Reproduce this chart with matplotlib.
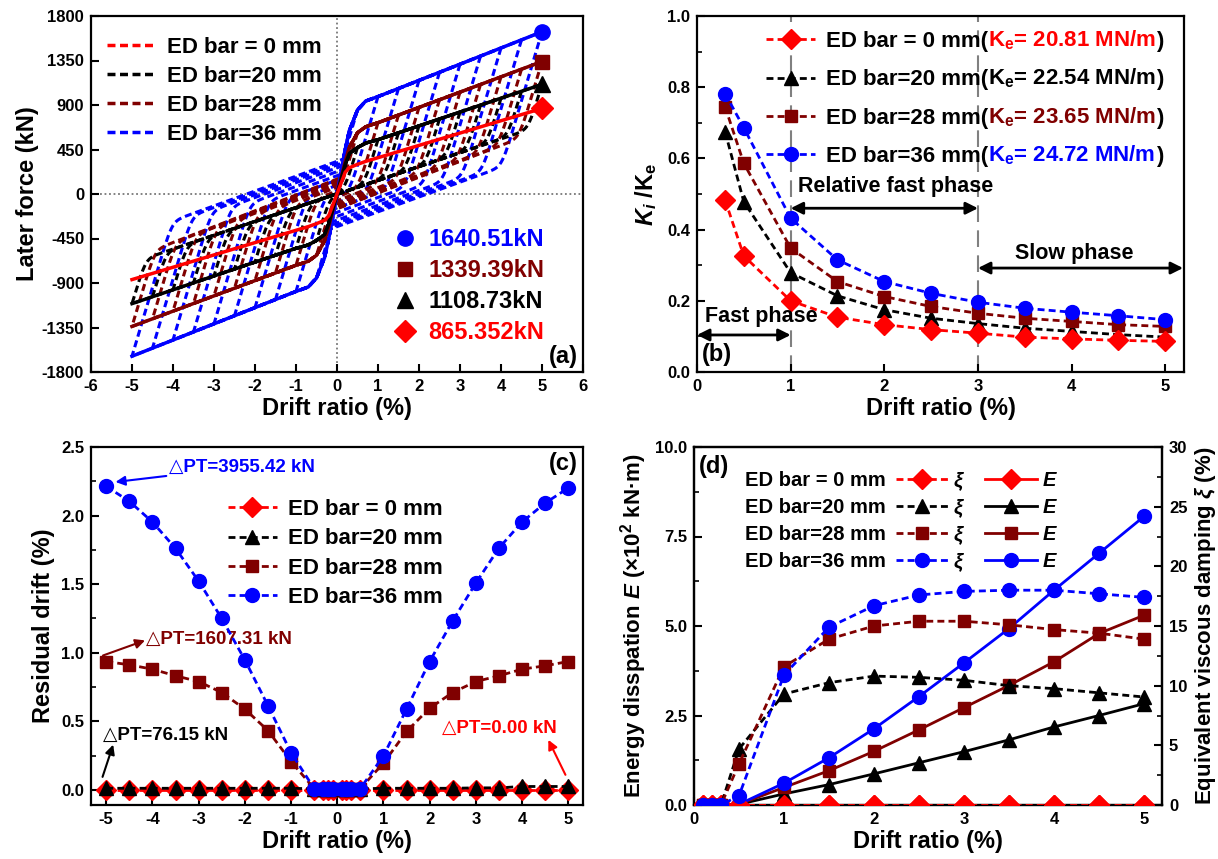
import numpy as np
import matplotlib
matplotlib.use('Agg')
import matplotlib.pyplot as plt
from matplotlib.lines import Line2D
from matplotlib.ticker import MultipleLocator, FormatStrFormatter

plt.rcParams.update({
    'font.family': ['Liberation Sans', 'DejaVu Sans'],
    'font.weight': 'bold',
    'axes.labelweight': 'bold',
    'axes.unicode_minus': False,
    'mathtext.fontset': 'custom',
    'mathtext.rm': 'Liberation Sans:bold',
    'mathtext.it': 'Liberation Sans:italic:bold',
    'mathtext.bf': 'Liberation Sans:bold',
    'xtick.direction': 'in', 'ytick.direction': 'in',
    'xtick.major.size': 6, 'ytick.major.size': 6,
    'xtick.minor.size': 3.5, 'ytick.minor.size': 3.5,
    'xtick.major.width': 1.5, 'ytick.major.width': 1.5,
    'xtick.minor.width': 1.2, 'ytick.minor.width': 1.2,
    'axes.linewidth': 1.6,
    'xtick.labelsize': 12, 'ytick.labelsize': 12,
    'xtick.major.pad': 5, 'ytick.major.pad': 5,
    'axes.labelsize': 17,
})

RED, BLACK, BROWN, BLUE = '#FF0000', '#000000', '#800000', '#0000FF'

# ---------------- data ----------------
series_labels = ['ED bar = 0 mm', 'ED bar=20 mm', 'ED bar=28 mm', 'ED bar=36 mm']
series_colors = [RED, BLACK, BROWN, BLUE]
series_markers = ['D', '^', 's', 'o']

# (a) skeleton curves (positive half, mirrored for negative drift)
bb_drift = [0, 0.1, 0.2, 0.3, 0.5, 0.7, 1.0, 5.0]
bb_red = [0, 110, 220, 265, 300, 330, 367, 865.352]
bb_black = [0, 150, 300, 410, 470, 515, 549, 1108.73]
bb_brown = [0, 160, 330, 470, 620, 680, 721, 1339.39]
bb_blue = [0, 230, 450, 640, 850, 940, 985, 1640.51]
peak_labels = ['865.352kN', '1108.73kN', '1339.39kN', '1640.51kN']
cycle_drifts = [0.5, 1, 1.5, 2, 2.5, 3, 3.5, 4, 4.5, 5]
unload_slope = [0, 140, 160, 150]        # kN/% slope of unloading branch
unload_stiff = [0, 1400, 1400, 1400]     # kN/% initial unloading stiffness
corner_round = 90                        # kN, rounding of loop corners

# (b) stiffness degradation
b_drift = [0.3, 0.5, 1, 1.5, 2, 2.5, 3, 3.5, 4, 4.5, 5]
kr_red = [0.483, 0.326, 0.200, 0.154, 0.133, 0.119, 0.109, 0.098, 0.093, 0.089, 0.086]
kr_black = [0.675, 0.478, 0.279, 0.214, 0.175, 0.151, 0.136, 0.123, 0.114, 0.105, 0.098]
kr_brown = [0.745, 0.586, 0.348, 0.254, 0.212, 0.184, 0.165, 0.151, 0.142, 0.133, 0.128]
kr_blue = [0.782, 0.686, 0.432, 0.315, 0.254, 0.221, 0.196, 0.179, 0.168, 0.158, 0.147]
ke_values = ['20.81', '22.54', '23.65', '24.72']

# (c) residual drift
c_drift = [-5, -4.5, -4, -3.5, -3, -2.5, -2, -1.5, -1, -0.5, -0.3, -0.2, -0.1,
           0.1, 0.2, 0.3, 0.5, 1, 1.5, 2, 2.5, 3, 3.5, 4, 4.5, 5]
res_red = [0.0] * 26
res_black = [0.012, 0.012, 0.012, 0.012, 0.012, 0.012, 0.012, 0.012, 0.012, 0.008, 0.008, 0.008, 0.008,
             0.008, 0.008, 0.008, 0.008, 0.012, 0.012, 0.012, 0.012, 0.015, 0.015, 0.025, 0.025, 0.025]
res_brown = [0.936, 0.912, 0.880, 0.832, 0.790, 0.710, 0.589, 0.433, 0.207, 0.01, 0.01, 0.01, 0.01,
             0.01, 0.01, 0.01, 0.01, 0.195, 0.426, 0.596, 0.710, 0.790, 0.832, 0.880, 0.905, 0.936]
res_blue = [2.213, 2.104, 1.953, 1.761, 1.522, 1.250, 0.948, 0.615, 0.272, 0.01, 0.01, 0.01, 0.01,
            0.01, 0.01, 0.01, 0.01, 0.248, 0.589, 0.936, 1.233, 1.508, 1.763, 1.953, 2.091, 2.201]
dpt_labels = ['\u25b3PT=0.00 kN', '\u25b3PT=76.15 kN', '\u25b3PT=1607.31 kN', '\u25b3PT=3955.42 kN']

# (d) energy and damping
d_drift = [0.1, 0.2, 0.3, 0.5, 1, 1.5, 2, 2.5, 3, 3.5, 4, 4.5, 5]
E_red = [0, 0, 0, 0, 0, 0, 0, 0, 0, 0, 0, 0, 0]
E_black = [0, 0, 0, 0.02, 0.31, 0.57, 0.87, 1.18, 1.49, 1.82, 2.18, 2.50, 2.83]
E_brown = [0, 0, 0, 0.02, 0.49, 0.96, 1.50, 2.10, 2.72, 3.34, 4.00, 4.79, 5.30]
E_blue = [0, 0, 0, 0.02, 0.61, 1.32, 2.13, 3.03, 3.97, 4.93, 6.00, 7.03, 8.06]
xi_red = [0, 0, 0, 0, 0, 0, 0, 0, 0, 0, 0, 0, 0]
xi_black = [0, 0, 0, 4.7, 9.3, 10.25, 10.8, 10.7, 10.45, 10.0, 9.75, 9.4, 9.05]
xi_brown = [0, 0, 0, 3.45, 11.6, 13.9, 15.0, 15.4, 15.4, 15.1, 14.7, 14.4, 13.9]
xi_blue = [0, 0, 0, 0.78, 10.9, 14.9, 16.7, 17.6, 17.9, 18.0, 18.0, 17.7, 17.4]

backbones = [bb_red, bb_black, bb_brown, bb_blue]
kr_all = [kr_red, kr_black, kr_brown, kr_blue]
res_all = [res_red, res_black, res_brown, res_blue]
E_all = [E_red, E_black, E_brown, E_blue]
xi_all = [xi_red, xi_black, xi_brown, xi_blue]

# ---------------- figure ----------------
W, H = 1218, 859
fig = plt.figure(figsize=(W / 100, H / 100), dpi=100)


def add_ax(l, r, t, b):
    return fig.add_axes([l / W, 1 - b / H, (r - l) / W, (b - t) / H])


axA = add_ax(91, 583, 16, 372)
axB = add_ax(697, 1184, 16, 372)
axC = add_ax(91, 583, 447, 805)
axD = add_ax(694, 1162, 447, 805)

DASH = (2.3, 1.3)


def full_backbone(bf):
    bx = np.asarray(bb_drift, float)
    f = np.asarray(bf, float)
    return (np.concatenate([-bx[::-1], bx[1:]]), np.concatenate([-f[::-1], f[1:]]))


def hysteresis_loop(bf, d, r, k_l, k_u, s):
    bx = np.asarray(bb_drift, float)
    f = np.asarray(bf, float)
    P = np.interp(d, bx, f)
    xs = np.linspace(d, -d, 500)
    env = np.sign(xs) * np.interp(np.abs(xs), bx, f)
    L = k_l * (xs - r)
    S = P - k_u * (d - xs)
    soft = s * np.logaddexp(L / s, S / s)
    lower = np.minimum(np.minimum(soft, np.maximum(L, S) + 0.0), env)
    lower = np.minimum(soft, env)
    lower[0] = P
    return np.concatenate([xs, -xs]), np.concatenate([lower, -lower])


# ---------------- (a) ----------------
axA.axhline(0, color='#777777', lw=1.3, ls=(0, (1, 1.5)), zorder=1)
axA.axvline(0, color='#777777', lw=1.3, ls=(0, (1, 1.5)), zorder=1)
for i in [3, 2, 1, 0]:
    if max(E_all[i]) <= 0:
        continue
    for d in cycle_drifts:
        r = np.interp(d, c_drift, res_all[i])
        x, f = hysteresis_loop(backbones[i], d, r, unload_slope[i], unload_stiff[i],
                               corner_round)
        axA.plot(x, f, color=series_colors[i], lw=2.2, dashes=DASH, zorder=2)
peak_handles = {}
for i in [3, 2, 1, 0]:
    x, f = full_backbone(backbones[i])
    axA.plot(x, f, color=series_colors[i], lw=2.5, zorder=3)
    peak_handles[i], = axA.plot([bb_drift[-1]], [backbones[i][-1]], ls='none',
                                marker=series_markers[i], color=series_colors[i],
                                ms=11 if series_markers[i] != 's' else 10, zorder=4,
                                clip_on=False)
axA.set_xlim(-6, 6)
axA.set_ylim(-1800, 1800)
axA.xaxis.set_major_locator(MultipleLocator(1))
axA.yaxis.set_major_locator(MultipleLocator(450))
axA.set_xlabel('Drift ratio (%)', labelpad=2)
axA.set_ylabel('Later force (kN)', labelpad=2)
proxies = [Line2D([], [], color=c, lw=2.5, dashes=DASH) for c in series_colors]
legA1 = axA.legend(proxies, series_labels, loc='upper left', bbox_to_anchor=(0.0325, 0.941),
                   frameon=False, fontsize=16, handlelength=2.2, handletextpad=0.5,
                   labelspacing=0.36, borderpad=0, borderaxespad=0)
axA.add_artist(legA1)
order = [3, 2, 1, 0]
legA2 = axA.legend([peak_handles[i] for i in order], [peak_labels[i] for i in order],
                   labelcolor=[series_colors[i] for i in order], loc='upper left',
                   bbox_to_anchor=(0.614, 0.405), frameon=False, fontsize=17,
                   handlelength=1.0, handletextpad=0.5, labelspacing=0.34,
                   borderpad=0, borderaxespad=0)
axA.text(0.99, 0.012, '(a)', transform=axA.transAxes, ha='right', va='bottom', fontsize=17)

# ---------------- (b) ----------------
axB.axvline(1, color='#808080', lw=1.5, dashes=(8, 4), zorder=1)
axB.axvline(3, color='#808080', lw=1.5, dashes=(8, 4), zorder=1)
lines_b = {}
for i in [1, 2, 3, 0]:
    lines_b[i], = axB.plot(b_drift, kr_all[i], color=series_colors[i], lw=2, dashes=(2.5, 1.5),
                           marker=series_markers[i], ms=10 if series_markers[i] != 's' else 9,
                           zorder=3)
axB.set_xlim(0, 5.2)
axB.set_ylim(0, 1.0)
axB.xaxis.set_major_locator(MultipleLocator(1))
axB.yaxis.set_major_locator(MultipleLocator(0.2))
axB.yaxis.set_minor_locator(MultipleLocator(0.1))
axB.yaxis.set_major_formatter(FormatStrFormatter('%.1f'))
axB.set_xlabel('Drift ratio (%)', labelpad=2)
axB.set_ylabel(r'$K_i$ /$\mathrm{K_e}$', labelpad=6)
legB = axB.legend([lines_b[i] for i in range(4)],
                  [s + '(' for s in series_labels],
                  loc='upper left', bbox_to_anchor=(0.142, 0.958), frameon=False, fontsize=16,
                  handlelength=2.2, handletextpad=0.5, labelspacing=0.78,
                  borderpad=0, borderaxespad=0)
for txt, c, ke in zip(legB.get_texts(), series_colors, ke_values):
    a1 = axB.annotate(r'$\mathrm{K_e}$= ' + ke + ' MN/m', xy=(1, 0), xycoords=txt,
                      ha='left', va='bottom', color=c, fontsize=16, zorder=10,
                      annotation_clip=False)
    axB.annotate(')', xy=(1, 0), xycoords=a1, ha='left', va='bottom', color='k',
                 fontsize=16, zorder=10, annotation_clip=False)
arrow_kw = dict(arrowstyle='<|-|>', color='k', lw=2, mutation_scale=18, shrinkA=0, shrinkB=0)
axB.annotate('', xy=(0, 0.104), xytext=(1, 0.104), arrowprops=arrow_kw)
axB.annotate('', xy=(1, 0.46), xytext=(3, 0.46), arrowprops=arrow_kw)
axB.annotate('', xy=(3, 0.292), xytext=(5.19, 0.292), arrowprops=arrow_kw)
axB.text(0.69, 0.155, 'Fast phase', ha='center', va='center', fontsize=15.5)
axB.text(2.12, 0.52, 'Relative fast phase', ha='center', va='center', fontsize=15.5)
axB.text(4.03, 0.334, 'Slow phase', ha='center', va='center', fontsize=15.5)
axB.text(0.01, 0.048, '(b)', transform=axB.transAxes, ha='left', va='center', fontsize=17)

# ---------------- (c) ----------------
lines_c = {}
for i in [0, 1, 2, 3]:
    lines_c[i], = axC.plot(c_drift, res_all[i], color=series_colors[i], lw=2, dashes=(2.5, 1.5),
                           marker=series_markers[i], ms=10 if series_markers[i] != 's' else 9,
                           zorder=3 + i * 0.1)
axC.set_xlim(-5.33, 5.32)
axC.set_ylim(-0.11, 2.5)
axC.xaxis.set_major_locator(MultipleLocator(1))
axC.yaxis.set_major_locator(MultipleLocator(0.5))
axC.yaxis.set_minor_locator(MultipleLocator(0.25))
axC.yaxis.set_major_formatter(FormatStrFormatter('%.1f'))
axC.set_xlabel('Drift ratio (%)', labelpad=2)
axC.set_ylabel('Residual drift (%)', labelpad=4)
axC.legend([lines_c[i] for i in range(4)], series_labels, loc='upper left',
           bbox_to_anchor=(0.278, 0.855), frameon=False, fontsize=16, handlelength=2.2,
           handletextpad=0.5, labelspacing=0.38, borderpad=0, borderaxespad=0)
ann_kw = dict(fontsize=13.5, ha='left', va='center', annotation_clip=False)
axC.annotate(dpt_labels[3], xy=(-4.8, 2.245), xytext=(-3.64, 2.354), color=BLUE,
             arrowprops=dict(arrowstyle='-|>', color=BLUE, lw=1.5, mutation_scale=14,
                             shrinkA=0, shrinkB=0), **ann_kw)
axC.annotate('', xy=(-4.16, 1.09), xytext=(-5.07, 0.98),
             arrowprops=dict(arrowstyle='-|>', color=BROWN, lw=1.5, mutation_scale=14,
                             shrinkA=0, shrinkB=0))
axC.text(-4.13, 1.10, dpt_labels[2], color=BROWN, fontsize=13.5, ha='left', va='center')
axC.annotate('', xy=(-4.85, 0.33), xytext=(-5.08, 0.095),
             arrowprops=dict(arrowstyle='-|>', color=BLACK, lw=1.5, mutation_scale=14,
                             shrinkA=0, shrinkB=0))
axC.text(-5.06, 0.40, dpt_labels[1], color=BLACK, fontsize=13.5, ha='left', va='center')
axC.annotate('', xy=(4.57, 0.365), xytext=(4.94, 0.11),
             arrowprops=dict(arrowstyle='-|>', color=RED, lw=1.5, mutation_scale=14,
                             shrinkA=0, shrinkB=0))
axC.text(2.27, 0.445, dpt_labels[0], color=RED, fontsize=13.5, ha='left', va='center')
axC.text(0.99, 0.955, '(c)', transform=axC.transAxes, ha='right', va='center', fontsize=17)

# ---------------- (d) ----------------
axD2 = axD.twinx()
e_lines, xi_lines = [], []
for i in [0, 1, 2, 3]:
    ms = 10 if series_markers[i] != 's' else 9
    le, = axD.plot(d_drift, E_all[i], color=series_colors[i], lw=2, marker=series_markers[i],
                   ms=ms, zorder=3)
    lx, = axD2.plot(d_drift, xi_all[i], color=series_colors[i], lw=2, dashes=(2.5, 1.5),
                    marker=series_markers[i], ms=ms, zorder=3)
    e_lines.append(le)
    xi_lines.append(lx)
axD.set_xlim(0, 5.2)
axD.set_ylim(0, 10)
axD2.set_ylim(0, 30)
axD.xaxis.set_major_locator(MultipleLocator(1))
axD.yaxis.set_major_locator(MultipleLocator(2.5))
axD.yaxis.set_minor_locator(MultipleLocator(1.25))
axD.yaxis.set_major_formatter(FormatStrFormatter('%.1f'))
axD2.yaxis.set_major_locator(MultipleLocator(5))
axD2.yaxis.set_minor_locator(MultipleLocator(2.5))
axD2.tick_params(axis='y', which='both', direction='in')
axD.set_xlabel('Drift ratio (%)', labelpad=2)
axD.set_ylabel(r'Energy disspation $E$ (×10$^{2}$ kN·m)', fontsize=16, labelpad=4)
axD2.set_ylabel(r'Equivalent viscous damping $\xi$ (%)', fontsize=16, labelpad=4)
for sp in axD2.spines.values():
    sp.set_linewidth(1.6)
blank = [Line2D([], [], alpha=0) for _ in range(4)]
legD = axD2.legend(blank + xi_lines + e_lines,
                   series_labels + ['ξ  '] * 4 + ['E'] * 4,
                   ncol=3, loc='upper left', bbox_to_anchor=(-0.016, 0.933), frameon=False,
                   fontsize=14.5, handlelength=2.6, handletextpad=0.3, columnspacing=0.5,
                   labelspacing=0.4, borderpad=0, borderaxespad=0)
for t in legD.get_texts()[4:]:
    t.set_fontstyle('italic')
axD.text(0.01, 0.945, '(d)', transform=axD.transAxes, ha='left', va='center', fontsize=17)

fig.savefig('out.png', dpi=100)
